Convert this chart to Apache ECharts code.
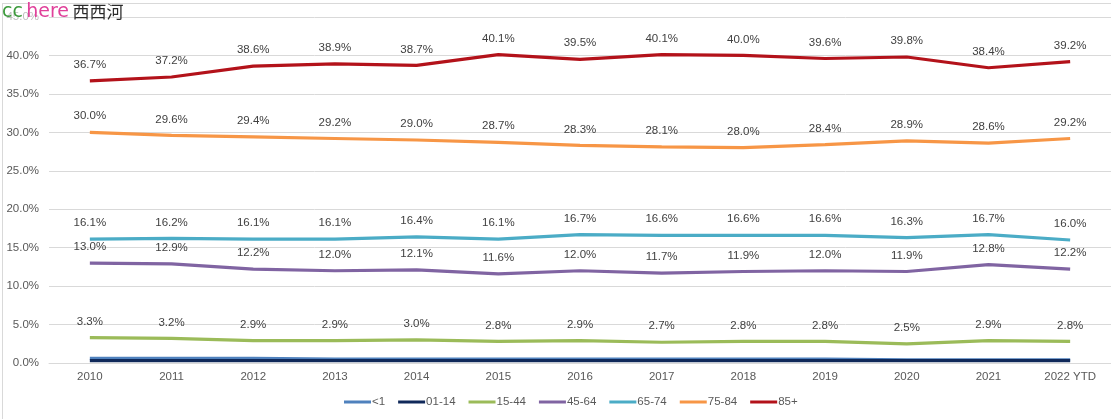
<!DOCTYPE html>
<html>
<head>
<meta charset="utf-8">
<script src="https://cdn.jsdelivr.net/npm/echarts@6/dist/echarts.min.js"></script>
<style>
html,body{margin:0;padding:0;background:#fff;}
#c{width:1111px;height:419px;}
</style>
</head>
<body>
<div id="c"></div>
<script>
const categories = ['2010','2011','2012','2013','2014','2015','2016','2017','2018','2019','2020','2021','2022 YTD'];
const under1   = [0.6,0.6,0.6,0.5,0.5,0.5,0.5,0.5,0.5,0.5,0.4,0.4,0.4];
const age01_14 = [0.3,0.3,0.3,0.3,0.3,0.3,0.3,0.3,0.3,0.3,0.3,0.3,0.3];
const age15_44 = [3.3,3.2,2.9,2.9,3.0,2.8,2.9,2.7,2.8,2.8,2.5,2.9,2.8];
const age45_64 = [13.0,12.9,12.2,12.0,12.1,11.6,12.0,11.7,11.9,12.0,11.9,12.8,12.2];
const age65_74 = [16.1,16.2,16.1,16.1,16.4,16.1,16.7,16.6,16.6,16.6,16.3,16.7,16.0];
const age75_84 = [30.0,29.6,29.4,29.2,29.0,28.7,28.3,28.1,28.0,28.4,28.9,28.6,29.2];
const age85    = [36.7,37.2,38.6,38.9,38.7,40.1,39.5,40.1,40.0,39.6,39.8,38.4,39.2];
const yTicks = [0,5,10,15,20,25,30,35,40,45];

const font = '"Liberation Sans", "DejaVu Sans", sans-serif';
const fs = 11.5;
function mk(name, data, color, showLabel) {
  return {
    name, type: 'line', data,
    symbol: 'circle', symbolSize: 0.1, showSymbol: true,
    lineStyle: { color, width: 3.2 },
    itemStyle: { color },
    label: {
      show: showLabel, position: 'top', distance: 10,
      formatter: p => p.value.toFixed(1) + '%',
      color: '#404040', fontSize: fs, fontFamily: font
    },
    emphasis: { disabled: true },
    animation: false
  };
}
const chart = echarts.init(document.getElementById('c'));
chart.setOption({
  animation: false,
  grid: { left: 49, right: -2, top: 17, bottom: 56, containLabel: false },
  xAxis: {
    type: 'category', data: categories, boundaryGap: true,
    axisLine: { show: true, lineStyle: { color: '#d9d9d9' } },
    axisTick: { show: false },
    axisLabel: { color: '#595959', fontSize: fs, fontFamily: font, margin: 8 }
  },
  yAxis: {
    type: 'value', min: 0, max: 45, interval: 5,
    axisLine: { show: false }, axisTick: { show: false },
    splitLine: { lineStyle: { color: '#d9d9d9', width: 1 } },
    axisLabel: { color: '#595959', fontSize: fs, fontFamily: font, margin: 10,
      formatter: v => v.toFixed(1) + '%' }
  },
  legend: {
    bottom: 6, left: 339,
    icon: 'rect', itemWidth: 27, itemHeight: 3, itemGap: 13,
    textStyle: { color: '#595959', fontSize: fs, fontFamily: font, padding: [0,0,0,-4] },
    data: ['<1','01-14','15-44','45-64','65-74','75-84','85+']
  },
  graphic: [
    { type: 'rect', shape: { x: 2, y: 3, width: 1200, height: 1 }, style: { fill: '#d9d9d9' }, silent: true },
    { type: 'rect', shape: { x: 2, y: 3, width: 1, height: 420 }, style: { fill: '#d9d9d9' }, silent: true },
    { type: 'rect', shape: { x: 4, y: 8, width: 42, height: 18 }, style: { fill: 'rgba(255,255,255,0.6)' }, silent: true, z: 100 },
    { type: 'text', x: 2, y: 1, z: 101, silent: true,
      style: { text: '{a|cc} {b|here} {c|西西河}', verticalAlign: 'top',
        rich: {
          a: { fill: '#3c9a3c', fontSize: 19, lineHeight: 22, fontFamily: '"DejaVu Sans", sans-serif' },
          b: { fill: '#e0409a', fontSize: 19, lineHeight: 22, fontFamily: '"DejaVu Sans", sans-serif' },
          c: { fill: '#2a2a2a', fontSize: 17, lineHeight: 22, fontFamily: '"Noto Sans CJK SC", sans-serif' }
        } } }
  ],
  series: [
    mk('<1', under1, '#4f81bd', false),
    mk('01-14', age01_14, '#10295a', false),
    mk('15-44', age15_44, '#9bbb59', true),
    mk('45-64', age45_64, '#8064a2', true),
    mk('65-74', age65_74, '#4bacc6', true),
    mk('75-84', age75_84, '#f79646', true),
    mk('85+', age85, '#b3121a', true)
  ]
});
</script>
</body>
</html>
